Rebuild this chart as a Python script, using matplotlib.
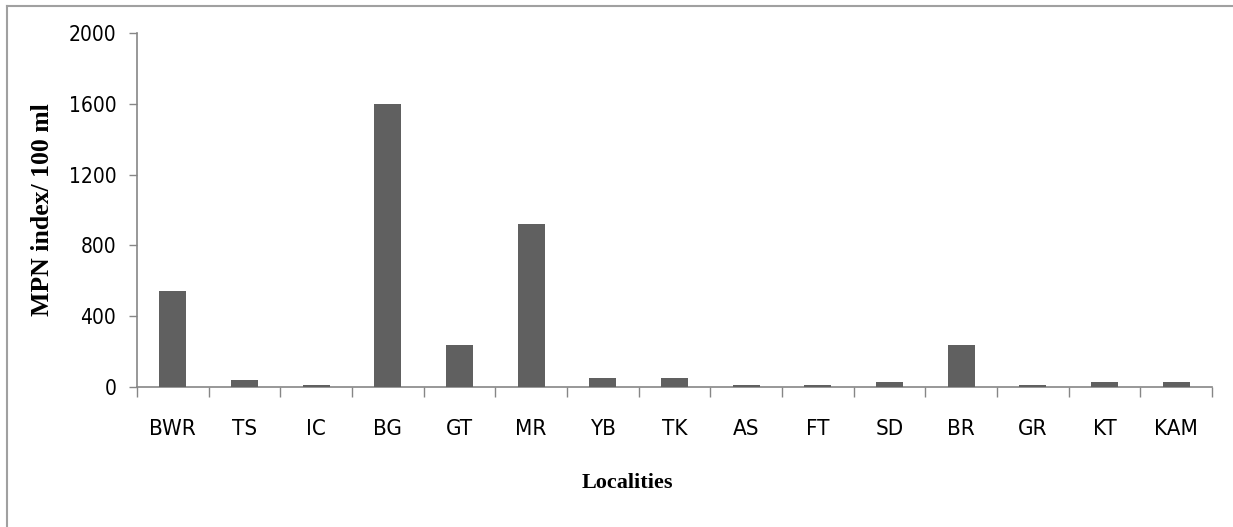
import matplotlib
matplotlib.use("Agg")
import matplotlib.pyplot as plt
from matplotlib.lines import Line2D
import numpy as np

# data
localities = ["BWR", "TS", "IC", "BG", "GT", "MR", "YB", "TK", "AS", "FT",
              "SD", "BR", "GR", "KT", "KAM"]
mpn = [545, 40, 13, 1600, 240, 920, 49, 49, 13, 13, 27, 240, 13, 27, 27]
y_ticks = [0, 400, 800, 1200, 1600, 2000]

tick_font = ["Liberation Sans Narrow", "DejaVu Sans"]
label_font = ["Liberation Serif", "DejaVu Serif"]
axis_grey = "#868686"

fig = plt.figure(figsize=(12.33, 5.27), dpi=100)
ax = fig.add_axes([137 / 1233, 1 - 387 / 527, (1212 - 137) / 1233, (387 - 33) / 527])

x = np.arange(len(localities))
ax.bar(x, mpn, width=0.38, color="#606060", zorder=3)

ax.set_xlim(-0.5, len(localities) - 0.5)
ax.set_ylim(0, 2000)
ax.set_yticks(y_ticks)
ax.set_yticklabels([str(v) for v in y_ticks], family=tick_font, fontsize=15,
                   fontstretch="condensed")

# labels at category centres, tick marks at category boundaries
ax.set_xticks(x)
ax.set_xticklabels(localities, family=tick_font, fontsize=16, fontstretch="condensed")
ax.set_xticks(np.arange(len(localities) + 1) - 0.5, minor=True)
ax.tick_params(axis="x", which="major", length=0, pad=23)
ax.tick_params(axis="x", which="minor", length=7, width=1, color=axis_grey)
ax.tick_params(axis="y", length=6, width=1, color=axis_grey, pad=9)

for side in ["top", "right"]:
    ax.spines[side].set_visible(False)
for side in ["left", "bottom"]:
    ax.spines[side].set_color(axis_grey)
    ax.spines[side].set_linewidth(1.2)

ax.set_ylabel("MPN index/ 100 ml", family=label_font, fontweight="bold",
              fontsize=18.5, labelpad=0)
ax.yaxis.set_label_coords(-(137 - 54) / 1075, 0.5)
fig.text(627 / 1233, 1 - 483 / 527, "Localities", family=label_font,
         fontweight="bold", fontsize=16, ha="center", va="center")

# frame around the chart area (left and top edges visible)
fig.add_artist(Line2D([7 / 1233, 7 / 1233], [0, 1 - 6 / 527], transform=fig.transFigure,
                      color="#a0a0a0", linewidth=1.5))
fig.add_artist(Line2D([7 / 1233, 1], [1 - 6 / 527, 1 - 6 / 527], transform=fig.transFigure,
                      color="#a0a0a0", linewidth=1.5))

fig.savefig("out.png", dpi=100)
